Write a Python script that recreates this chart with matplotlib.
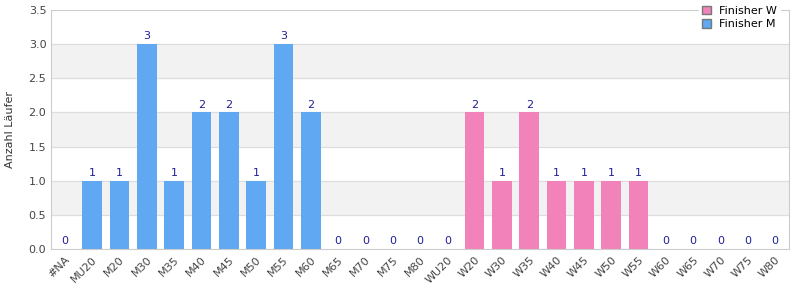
import matplotlib.pyplot as plt
from matplotlib.patches import Patch

kategorien = ['#NA', 'MU20', 'M20', 'M30', 'M35', 'M40', 'M45', 'M50', 'M55', 'M60',
              'M65', 'M70', 'M75', 'M80', 'WU20', 'W20', 'W30', 'W35', 'W40', 'W45',
              'W50', 'W55', 'W60', 'W65', 'W70', 'W75', 'W80']
anzahl = [0, 1, 1, 3, 1, 2, 2, 1, 3, 2,
          0, 0, 0, 0, 0, 2, 1, 2, 1, 1,
          1, 1, 0, 0, 0, 0, 0]

blau = '#60a8f2'
pink = '#f282ba'
farben = [pink if k.startswith('W') else blau for k in kategorien]

fig = plt.figure(figsize=(8, 3), dpi=100)
ax = fig.add_axes([0.064, 0.17, 0.922, 0.797])

# alternating grey bands
for lo in [0.5, 1.5, 2.5]:
    ax.axhspan(lo, lo + 0.5, color='#f2f2f2', zorder=0)
for y in [0.5, 1.0, 1.5, 2.0, 2.5, 3.0]:
    ax.axhline(y, color='#dddddd', lw=0.8, zorder=0.5)

x = range(len(kategorien))
ax.bar(x, anzahl, width=0.72, color=farben, zorder=2)
for i, v in zip(x, anzahl):
    ax.text(i, v + 0.04, str(v), ha='center', va='bottom', fontsize=8, color='#1f1f99')

ax.set_xlim(-0.5, len(kategorien) - 0.5)
ax.set_ylim(0, 3.5)
ax.set_yticks([0, 0.5, 1.0, 1.5, 2.0, 2.5, 3.0, 3.5])
ax.set_yticklabels(['0.0', '0.5', '1.0', '1.5', '2.0', '2.5', '3.0', '3.5'])
ax.set_xticks(list(x))
ax.set_xticklabels(kategorien, rotation=45, ha='right', rotation_mode='anchor')
ax.tick_params(axis='both', labelsize=8, colors='#444444', length=0)
ax.tick_params(axis='x', pad=4)
ax.set_ylabel('Anzahl Läufer', fontsize=8, color='#333333', labelpad=10)

for s in ax.spines.values():
    s.set_color('#cccccc')
    s.set_linewidth(0.8)

handles = [Patch(facecolor=pink, edgecolor='#777777', label='Finisher W'),
           Patch(facecolor=blau, edgecolor='#777777', label='Finisher M')]
leg = ax.legend(handles=handles, loc='upper right', bbox_to_anchor=(0.995, 1.05),
                fontsize=8, frameon=True, fancybox=False, framealpha=1,
                edgecolor='white', handlelength=0.8, handleheight=0.8,
                labelspacing=0.3, borderpad=0.2)
leg.set_zorder(5)

fig.savefig('out.png', dpi=100)
